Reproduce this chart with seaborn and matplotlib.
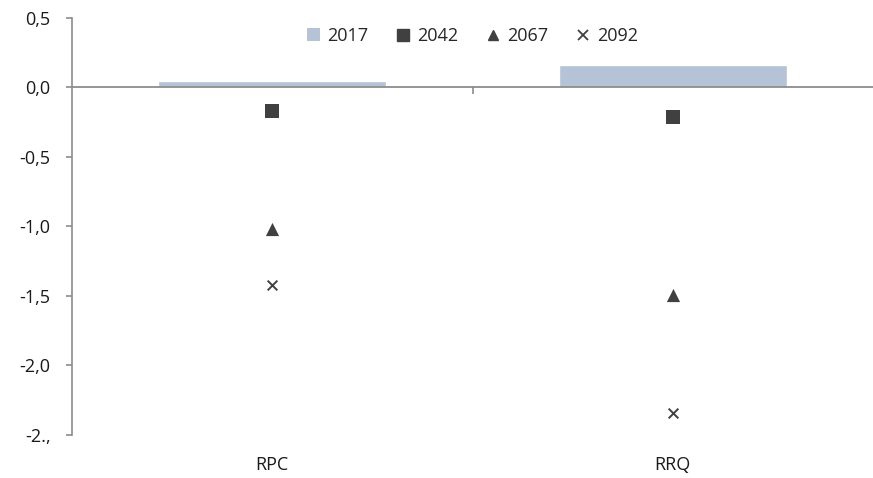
import matplotlib
matplotlib.use("Agg")
import matplotlib.pyplot as plt
import seaborn as sns
import pandas as pd
from matplotlib.lines import Line2D
from matplotlib.patches import Patch

# datos
categorias = ["RPC", "RRQ"]
v2017 = [0.045, 0.16]
v2042 = [-0.17, -0.21]
v2067 = [-1.02, -1.49]
v2092 = [-1.42, -2.34]
yticks = [-2.5, -2.0, -1.5, -1.0, -0.5, 0.0, 0.5]
ytick_labels = ["-2.,", "-2,0", "-1,5", "-1,0", "-0,5", "0,0", "0,5"]

sns.set_style("white")
plt.rcParams["font.family"] = ["Open Sans", "DejaVu Sans"]

df = pd.DataFrame({"cat": categorias, "2017": v2017, "2042": v2042,
                   "2067": v2067, "2092": v2092})

fig = plt.figure(figsize=(8.73, 4.78), dpi=100)
ax = fig.add_axes([0.0825, 0.090, 0.9175, 0.8725])

bar_col = "#b4c3d6"
mk_col = "#404040"

sns.barplot(data=df, x="cat", y="2017", color=bar_col, width=0.57,
            saturation=1, ax=ax)
sns.stripplot(data=df, x="cat", y="2042", jitter=False, marker="s", size=9.5,
              color=mk_col, linewidth=0, ax=ax)
sns.stripplot(data=df, x="cat", y="2067", jitter=False, marker="^", size=9.5,
              color=mk_col, linewidth=0, ax=ax)
sns.stripplot(data=df, x="cat", y="2092", jitter=False, marker="x", size=7,
              color=mk_col, linewidth=1.4, ax=ax)

ax.set_xlim(-0.5, len(categorias) - 0.5)
ax.set_ylim(-2.5, 0.5)
ax.axhline(0, color="#8c8c8c", lw=1.3, zorder=3)
# marca divisoria entre categorias
ax.vlines([0.5], 0, -0.045, color="#8c8c8c", lw=1.2, zorder=3)

ax.set_yticks(yticks)
ax.set_yticklabels(ytick_labels)
ax.set_xlabel("")
ax.set_ylabel("")

for s in ["top", "right", "bottom"]:
    ax.spines[s].set_visible(False)
ax.spines["left"].set_color("#8c8c8c")
ax.spines["left"].set_linewidth(1.2)

ax.tick_params(axis="y", left=True, length=4.5, width=1.2, color="#8c8c8c",
               labelsize=13, pad=11, labelcolor="#1a1a1a")
ax.tick_params(axis="x", bottom=False, length=0, labelsize=13, pad=15,
               labelcolor="#1a1a1a")

handles = [
    Patch(facecolor=bar_col, edgecolor="none"),
    Line2D([], [], marker="s", ls="none", color=mk_col, ms=8),
    Line2D([], [], marker="^", ls="none", color=mk_col, ms=7),
    Line2D([], [], marker="x", ls="none", color=mk_col, ms=7, mew=1.3),
]
ax.legend(handles, ["2017", "2042", "2067", "2092"], loc="upper center",
          bbox_to_anchor=(0.5, 1.0), ncol=4, frameon=False, fontsize=13,
          handlelength=0.75, handleheight=0.7, handletextpad=0.4,
          columnspacing=1.55, borderaxespad=0.1)

fig.savefig("out.png", dpi=100)
